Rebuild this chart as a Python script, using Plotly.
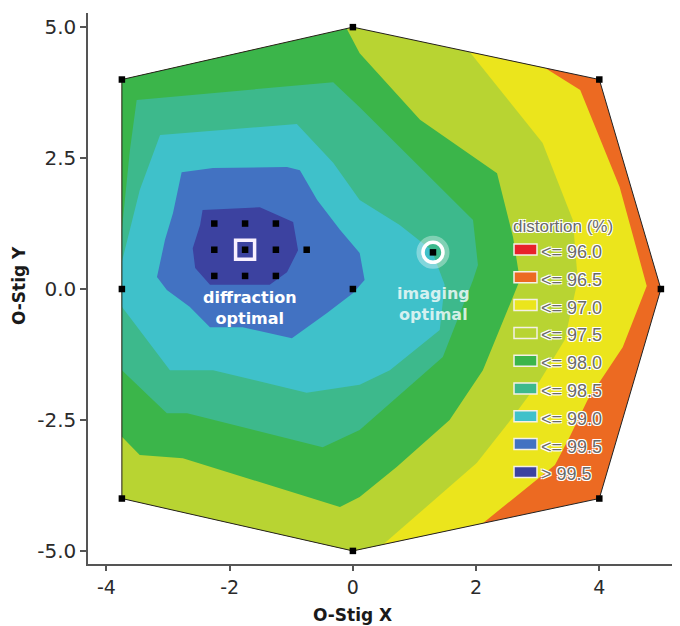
import plotly.graph_objects as go

# ---- data ----
octagon_x = [-3.75, 0, 4, 5, 4, 0, -3.75, -3.75]
octagon_y = [4, 5, 4, 0, -4, -5, -4, 0]

# superlevel regions (boundary of area where distortion >= level)
r965_x = [-3.75, 0, 3.12, 3.69, 4.33, 4.77, 4.38, 3.81, 3.52, 3.28, 2.11, 0, -3.75, -3.75]
r965_y = [4, 5, 4.22, 3.80, 1.95, 0.06, -1.11, -2.12, -2.82, -3.36, -4.47, -5, -4, 0]

r970_x = [-3.75, 0, 1.90, 3.08, 3.57, 3.65, 3.44, 3.04, 2.60, 2.01, 0.49, 0, -3.75, -3.75]
r970_y = [4, 5, 4.52, 2.79, 1.32, 0.17, -0.97, -1.74, -2.44, -3.32, -4.88, -5, -4, 0]

r975_x = [-3.75, -0.10, 0.11, 1.09, 2.34, 2.60, 2.71, 2.11, 1.57, 0.71, 0.11, -0.21, -2.76, -3.46, -3.75, -3.75]
r975_y = [4, 4.97, 4.50, 3.23, 2.21, 0.99, 0.17, -1.55, -2.50, -3.40, -3.97, -4.16, -3.23, -3.17, -2.82, 0]

r980_x = [-3.75, -3.62, -3.51, -0.32, 0.11, 1.95, 2.03, 1.95, 1.46, 0.11, -0.49, -2.69, -3.02, -3.75]
r980_y = [1.13, 2.65, 3.61, 3.95, 3.47, 1.32, 0.46, 0.17, -1.30, -2.69, -3.02, -2.37, -2.37, -1.55]

r985_x = [-3.75, -3.46, -3.13, -0.91, -0.32, 0.11, 0.76, 1.28, 1.49, 1.41, 0.60, 0.11, -0.75, -2.27, -2.97, -3.75]
r985_y = [0.52, 1.89, 2.94, 3.15, 2.41, 1.70, 1.22, 0.74, 0.08, -0.78, -1.55, -1.83, -1.98, -1.55, -1.55, -0.34]

r990_x = [-2.78, -2.27, -1.07, -0.86, -0.58, -0.21, 0.11, 0.19, 0, -0.42, -0.99, -1.79, -2.32, -2.65, -3.02, -3.18, -3.05, -2.92]
r990_y = [2.23, 2.31, 2.33, 2.27, 1.70, 1.13, 0.69, 0.17, -0.08, -0.46, -0.94, -0.73, -0.73, -0.34, -0.02, 0.23, 0.94, 1.45]

r995_x = [-2.44, -1.51, -0.97, -0.89, -1.07, -1.35, -2.32, -2.56, -2.60, -2.48]
r995_y = [1.51, 1.56, 1.28, 0.74, 0.32, 0.08, 0.08, 0.40, 0.78, 1.22]

sample_x = [-3.75, 0, 4, 5, 4, 0, -3.75, -3.75, 0,
            -2.25, -1.75, -1.25, -2.25, -1.75, -1.25, -2.25, -1.75, -1.25, -0.75, 1.3]
sample_y = [4, 5, 4, 0, -4, -5, -4, 0, 0,
            1.25, 1.25, 1.25, 0.75, 0.75, 0.75, 0.25, 0.25, 0.25, 0.75, 0.7]

diffraction_opt = (-1.75, 0.75)
imaging_opt = (1.3, 0.7)

x_tickvals = [-4, -2, 0, 2, 4]
x_ticktext = ["-4", "-2", "0", "2", "4"]
y_tickvals = [-5, -2.5, 0, 2.5, 5]
y_ticktext = ["-5.0", "-2.5", "0.0", "2.5", "5.0"]

band_labels = ["<= 96.0", "<= 96.5", "<= 97.0", "<= 97.5", "<= 98.0",
               "<= 98.5", "<= 99.0", "<= 99.5", "> 99.5"]
band_colors = ["#e8212a", "#ec6a22", "#ebe51c", "#b8d432", "#3bb54a",
               "#3db98c", "#3fc1ca", "#4272c2", "#3c42a0"]

regions = [
    None,
    (octagon_x, octagon_y),
    (r965_x, r965_y),
    (r970_x, r970_y),
    (r975_x, r975_y),
    (r980_x, r980_y),
    (r985_x, r985_y),
    (r990_x, r990_y),
    (r995_x, r995_y),
]

# page layout (body of the page has an 8px margin)
W, H = 672, 618
ML, MR, MT, MB = 80, 0, 5, 62
PW, PH = W - ML - MR, H - MT - MB
OFF = 8


def paper_x(px):
    return (px - OFF - ML) / PW


def paper_y(py):
    return (H - MB - (py - OFF)) / PH


fig = go.Figure()
for reg, lab, col in zip(regions, band_labels, band_colors):
    if reg is None:
        continue
    rx = list(reg[0]) + [reg[0][0]]
    ry = list(reg[1]) + [reg[1][0]]
    fig.add_trace(go.Scatter(
        x=rx, y=ry, mode="lines", fill="toself", fillcolor=col,
        line=dict(width=0, color=col), name=lab, showlegend=False, hoverinfo="skip"))

# polygon outline
fig.add_trace(go.Scatter(
    x=octagon_x + [octagon_x[0]], y=octagon_y + [octagon_y[0]], mode="lines",
    line=dict(color="#222222", width=1), showlegend=False, hoverinfo="skip"))

# imaging optimal glow
fig.add_trace(go.Scatter(
    x=[imaging_opt[0]], y=[imaging_opt[1]], mode="markers",
    marker=dict(symbol="circle-open", size=25, color="rgba(255,255,255,0.35)", line=dict(width=8)),
    showlegend=False, hoverinfo="skip"))
fig.add_trace(go.Scatter(
    x=[imaging_opt[0]], y=[imaging_opt[1]], mode="markers",
    marker=dict(symbol="circle-open", size=20, color="white", line=dict(width=3.5)),
    showlegend=False, hoverinfo="skip"))

# diffraction optimal square
fig.add_trace(go.Scatter(
    x=[diffraction_opt[0]], y=[diffraction_opt[1]], mode="markers",
    marker=dict(symbol="square-open", size=19, color="#f8f0ff", line=dict(width=3.5)),
    showlegend=False, hoverinfo="skip"))

# sample points
fig.add_trace(go.Scatter(
    x=sample_x, y=sample_y, mode="markers",
    marker=dict(symbol="square", size=6.5, color="black"),
    showlegend=False, hoverinfo="skip"))

fig.add_annotation(x=-1.67, y=-0.36, text="<b>diffraction<br>optimal</b>",
                   showarrow=False, font=dict(family="DejaVu Sans", size=16, color="white"))
fig.add_annotation(x=1.31, y=-0.29, text="<b>imaging<br>optimal</b>",
                   showarrow=False, font=dict(family="DejaVu Sans", size=16, color="rgba(240,250,248,0.85)"))

# axis titles
fig.add_annotation(x=0, y=paper_y(615), xref="x", yref="paper", yanchor="middle",
                   xanchor="center", text="<b>O-Stig X</b>", showarrow=False,
                   font=dict(family="DejaVu Sans", size=17, color="#1a1a1a"))
fig.add_annotation(x=paper_x(19), y=paper_y(286), xref="paper", yref="paper", textangle=-90,
                   xanchor="center", yanchor="middle",
                   text="<b>O-Stig Y</b>", showarrow=False,
                   font=dict(family="DejaVu Sans", size=17, color="#1a1a1a"))

# legend (drawn by hand to get box swatches)
halo = "1px 1px 0px white, -1px -1px 0px white, 1px -1px 0px white, -1px 1px 0px white"
fig.add_annotation(x=paper_x(511), y=paper_y(226), xref="paper", yref="paper",
                   xanchor="left", yanchor="middle", text="distortion (%)", showarrow=False,
                   font=dict(family="Liberation Sans", size=17, color="#6a6a6a", shadow=halo))
for i, (lab, col) in enumerate(zip(band_labels, band_colors)):
    cy = 252 + 27.8 * i
    fig.add_shape(type="rect", xref="paper", yref="paper",
                  x0=paper_x(514), x1=paper_x(537), y0=paper_y(cy + 3), y1=paper_y(cy - 8),
                  fillcolor=col, line=dict(color="#f4f0e6", width=1.5))
    fig.add_annotation(x=paper_x(539), y=paper_y(cy), xref="paper", yref="paper",
                       xanchor="left", yanchor="middle", text=lab, showarrow=False,
                       font=dict(family="Liberation Sans", size=18, color="#6a6a6a", shadow=halo))

fig.update_layout(
    width=W, height=H,
    margin=dict(l=ML, r=MR, t=MT, b=MB, pad=0),
    paper_bgcolor="white", plot_bgcolor="white",
    font=dict(family="DejaVu Sans", size=20, color="#2a2a2a"),
    xaxis=dict(range=[-4.30, 5.31], tickvals=x_tickvals, ticktext=x_ticktext,
               showgrid=False, zeroline=False,
               showline=True, linecolor="#555", linewidth=1.5, ticks="outside", ticklen=5,
               tickcolor="#555", tickwidth=1.5, tickfont=dict(size=19)),
    yaxis=dict(range=[-5.25, 5.27], tickvals=y_tickvals, ticktext=y_ticktext,
               showgrid=False, zeroline=False,
               showline=True, linecolor="#555", linewidth=1.5, ticks="outside", ticklen=6,
               tickcolor="#555", tickwidth=1.5, tickfont=dict(size=20)),
    showlegend=False,
)

fig.write_html("out.html")
